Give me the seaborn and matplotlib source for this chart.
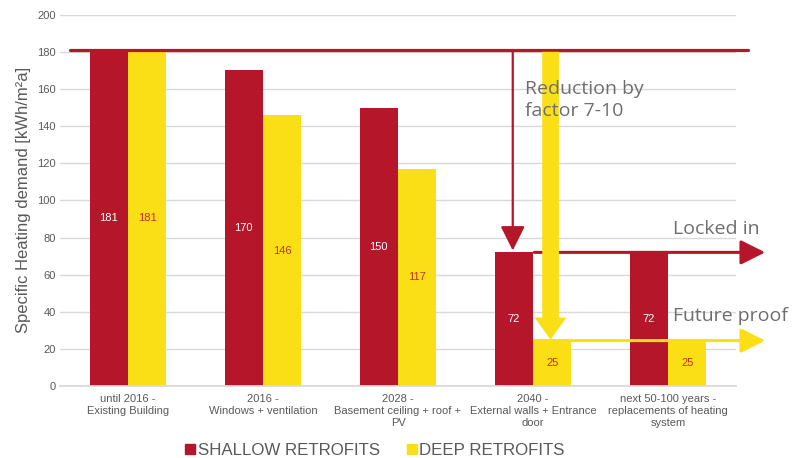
import numpy as np
import pandas as pd
import matplotlib.pyplot as plt
import seaborn as sns

# data
stages = ["until 2016 -\nExisting Building",
          "2016 -\nWindows + ventilation",
          "2028 -\nBasement ceiling + roof +\nPV",
          "2040 -\nExternal walls + Entrance\ndoor",
          "next 50-100 years -\nreplacements of heating\nsystem"]
shallow = [181, 170, 150, 72, 72]
deep = [181, 146, 117, 25, 25]
series = ["SHALLOW RETROFITS", "DEEP RETROFITS"]

RED = "#B5162A"
YELLOW = "#FADF16"
GRAY = "#595959"
TXT = "#6e6e6e"

df = pd.DataFrame({
    "stage": stages * 2,
    "value": shallow + deep,
    "type": [series[0]] * len(stages) + [series[1]] * len(stages),
})

sns.set_theme(style="white")
plt.rcParams["font.family"] = ["Liberation Sans", "DejaVu Sans"]

fig = plt.figure(figsize=(7.96, 4.58), dpi=100)
ax = fig.add_axes([0.076, 0.157, 0.848, 0.811])

sns.barplot(data=df, x="stage", y="value", hue="type",
            palette=[RED, YELLOW], width=0.57, gap=0, linewidth=0,
            saturation=1, ax=ax, legend=False, zorder=2)

ax.set_ylim(0, 200)
ax.set_xlim(-0.5, 4.5)
ax.set_yticks(np.arange(0, 201, 20))
ax.yaxis.grid(True, color="#d9d9d9", lw=1, zorder=0)
ax.set_axisbelow(True)
for s in ["top", "right", "left"]:
    ax.spines[s].set_visible(False)
ax.spines["bottom"].set_color("#d9d9d9")
ax.tick_params(axis="both", length=0, colors=GRAY, labelsize=8)
ax.tick_params(axis="x", pad=6)
ax.set_xlabel("")
ax.set_ylabel("Specific Heating demand [kWh/m²a]", fontsize=12, color=GRAY)

# value labels in the middle of each bar
ax.bar_label(ax.containers[0], label_type="center", color="white", fontsize=8)
ax.bar_label(ax.containers[1], label_type="center", color="#C0302A", fontsize=8)

# arrows and annotations
ax.plot([-0.43, 4.59], [181, 181], color=RED, lw=2.3, clip_on=False, zorder=5)

ax.annotate("", xy=(2.85, 73), xytext=(2.85, 181),
            arrowprops=dict(arrowstyle="-|>,head_length=1.5,head_width=0.75",
                            color=RED, lw=1.6, shrinkA=0, shrinkB=0,
                            mutation_scale=10), zorder=6)
ax.annotate("", xy=(3.01, 72), xytext=(4.72, 72),
            arrowprops=dict(arrowstyle="<|-,head_length=1.5,head_width=0.75",
                            color=RED, lw=2.2, shrinkA=0, shrinkB=0,
                            mutation_scale=10), annotation_clip=False, zorder=6)
ax.annotate("", xy=(3.01, 24.5), xytext=(4.72, 24.5),
            arrowprops=dict(arrowstyle="<|-,head_length=1.5,head_width=0.75",
                            color=YELLOW, lw=2.2, shrinkA=0, shrinkB=0,
                            mutation_scale=10), annotation_clip=False, zorder=6)
ax.annotate("", xy=(3.13, 25), xytext=(3.13, 180),
            arrowprops=dict(arrowstyle="simple,head_length=1.6,head_width=2.3,tail_width=1.2",
                            color=YELLOW, lw=0, shrinkA=0, shrinkB=0,
                            mutation_scale=10), zorder=7)

ax.text(2.94, 165, "Reduction by\nfactor 7-10", fontsize=14, color=TXT,
        family=["Open Sans", "DejaVu Sans"], va="top", ha="left",
        linespacing=1.3, zorder=8)
ax.text(4.04, 80, "Locked in", fontsize=14, color=TXT,
        family=["Open Sans", "DejaVu Sans"], va="bottom", ha="left",
        clip_on=False, zorder=8)
ax.text(4.04, 33, "Future proof", fontsize=14, color=TXT,
        family=["Open Sans", "DejaVu Sans"], va="bottom", ha="left",
        clip_on=False, zorder=8)

# legend
handles = [plt.Line2D([], [], marker="s", ls="", color=c, markersize=6.5) for c in [RED, YELLOW]]
fig.legend(handles, series, loc="center", bbox_to_anchor=(0.471, 0.017),
           ncol=2, frameon=False, fontsize=12.2, labelcolor=GRAY,
           handletextpad=0.15, columnspacing=1.6, handlelength=0.6)

fig.savefig("out.png", dpi=100)
